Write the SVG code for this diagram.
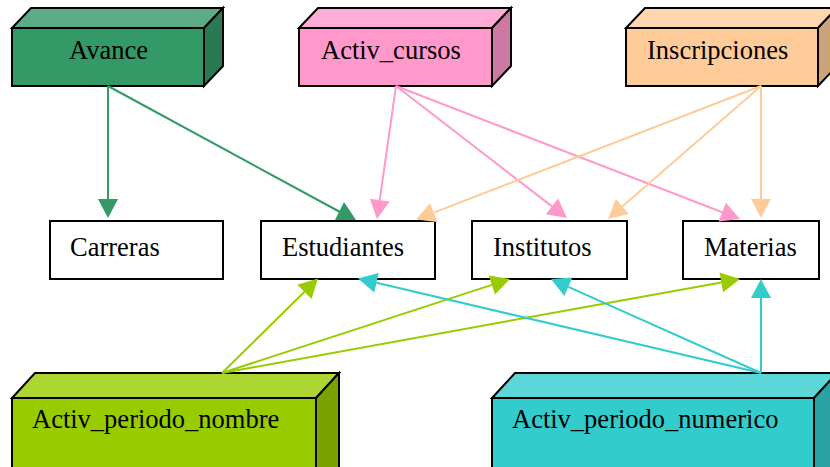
<svg xmlns="http://www.w3.org/2000/svg" width="830" height="467" viewBox="0 0 830 467">
  <style>
    .lbl { font-family: "Liberation Serif", "Times New Roman", serif; font-size: 26.5px; fill: #000; }
    .face { stroke: #000; stroke-width: 2; stroke-linejoin: miter; }
    .box { fill: #fff; stroke: #000; stroke-width: 2; }
    .e { fill: none; stroke-width: 2; }
    .g1 { stroke: #339966; } .g1f { fill: #339966; }
    .pk { stroke: #ff99cc; } .pkf { fill: #ff99cc; }
    .or { stroke: #ffcc99; } .orf { fill: #ffcc99; }
    .lm { stroke: #99cc00; } .lmf { fill: #99cc00; }
    .cy { stroke: #33cccc; } .cyf { fill: #33cccc; }
  </style>
  <rect width="830" height="467" fill="#fff"/>

  <!-- 3D source tables -->
  <g id="Avance">
    <polygon class="face" fill="#5cad85" points="12,28 31,8 223,8 204,28"/>
    <polygon class="face" fill="#297a52" points="204,28 223,8 223,66 204,86"/>
    <rect class="face" fill="#339966" x="12" y="28" width="192" height="58"/>
    <text class="lbl" x="69" y="59">Avance</text>
  </g>
  <g id="Activ_cursos">
    <polygon class="face" fill="#ffadd6" points="299,28 318,8 511,8 492,28"/>
    <polygon class="face" fill="#cc7aa3" points="492,28 511,8 511,66 492,86"/>
    <rect class="face" fill="#ff99cc" x="299" y="28" width="193" height="58"/>
    <text class="lbl" x="321" y="59">Activ_cursos</text>
  </g>
  <g id="Inscripciones">
    <polygon class="face" fill="#ffd6ad" points="626,28 645,8 837,8 818,28"/>
    <polygon class="face" fill="#cca37a" points="818,28 837,8 837,66 818,86"/>
    <rect class="face" fill="#ffcc99" x="626" y="28" width="192" height="58"/>
    <text class="lbl" x="647" y="59">Inscripciones</text>
  </g>
  <g id="Activ_periodo_nombre">
    <polygon class="face" fill="#add633" points="12,398 35,373 339,373 316,398"/>
    <polygon class="face" fill="#7aa300" points="316,398 339,373 339,470 316,480"/>
    <rect class="face" fill="#99cc00" x="12" y="398" width="304" height="82"/>
    <text class="lbl" x="32" y="428">Activ_periodo_nombre</text>
  </g>
  <g id="Activ_periodo_numerico">
    <polygon class="face" fill="#5cd6d6" points="492,398 515,373 837,373 814,398"/>
    <polygon class="face" fill="#29a3a3" points="814,398 837,373 837,470 814,480"/>
    <rect class="face" fill="#33cccc" x="492" y="398" width="322" height="82"/>
    <text class="lbl" x="512" y="428">Activ_periodo_numerico</text>
  </g>

  <!-- target tables -->
  <g id="Carreras">
    <rect class="box" x="50" y="221" width="173" height="58"/>
    <text class="lbl" x="70" y="256">Carreras</text>
  </g>
  <g id="Estudiantes">
    <rect class="box" x="261" y="221" width="174" height="58"/>
    <text class="lbl" x="282" y="256">Estudiantes</text>
  </g>
  <g id="Institutos">
    <rect class="box" x="472" y="221" width="155" height="58"/>
    <text class="lbl" x="493" y="256">Institutos</text>
  </g>
  <g id="Materias">
    <rect class="box" x="683" y="221" width="136" height="58"/>
    <text class="lbl" x="704" y="256">Materias</text>
  </g>

  <!-- connectors -->
  <g id="edges">
    <!-- Avance -->
    <line class="e g1" x1="108" y1="86" x2="108" y2="199"/>
    <polygon class="g1f" points="108,218 98,199 118,199"/>
    <line class="e g1" x1="108" y1="86" x2="340" y2="212"/>
    <polygon class="g1f" points="344,202 335,220 356,220"/>

    <!-- Activ_cursos -->
    <line class="e pk" x1="396" y1="86" x2="379.7" y2="200.2"/>
    <polygon class="pkf" points="377,219 369.8,198.8 389.6,201.6"/>
    <line class="e pk" x1="396" y1="86" x2="552" y2="206.4"/>
    <polygon class="pkf" points="567,218 545.9,214.3 558.1,198.5"/>
    <line class="e pk" x1="396" y1="86" x2="722.3" y2="212.2"/>
    <polygon class="pkf" points="740,219 718.7,221.5 725.9,202.8"/>

    <!-- Inscripciones -->
    <line class="e or" x1="761" y1="86" x2="433.7" y2="212.6"/>
    <polygon class="orf" points="416,219.5 430.1,203.3 437.3,222"/>
    <line class="e or" x1="761" y1="86" x2="622.3" y2="206.5"/>
    <polygon class="orf" points="608,219 615.8,199 628.9,214.1"/>
    <line class="e or" x1="761" y1="86" x2="761" y2="199"/>
    <polygon class="orf" points="761,218 751,199 771,199"/>

    <!-- Activ_periodo_nombre -->
    <line class="e lm" x1="222" y1="373" x2="304.5" y2="291.8"/>
    <polygon class="lmf" points="318,278.5 311.5,299 297.4,284.7"/>
    <line class="e lm" x1="222" y1="373" x2="491.9" y2="284.9"/>
    <polygon class="lmf" points="510,279 495,294.4 488.8,275.4"/>
    <line class="e lm" x1="222" y1="373" x2="721.3" y2="282.4"/>
    <polygon class="lmf" points="740,279 723.1,292.2 719.5,272.6"/>

    <!-- Activ_periodo_numerico -->
    <line class="e cy" x1="761" y1="373" x2="376.5" y2="282.8"/>
    <polygon class="cyf" points="358,278.5 378.8,273.1 374.2,292.6"/>
    <line class="e cy" x1="761" y1="373" x2="568.3" y2="286.8"/>
    <polygon class="cyf" points="551,279 572.4,277.6 564.3,295.9"/>
    <line class="e cy" x1="761" y1="373" x2="761" y2="298"/>
    <polygon class="cyf" points="761,279 751,298 771,298"/>
  </g>
</svg>
